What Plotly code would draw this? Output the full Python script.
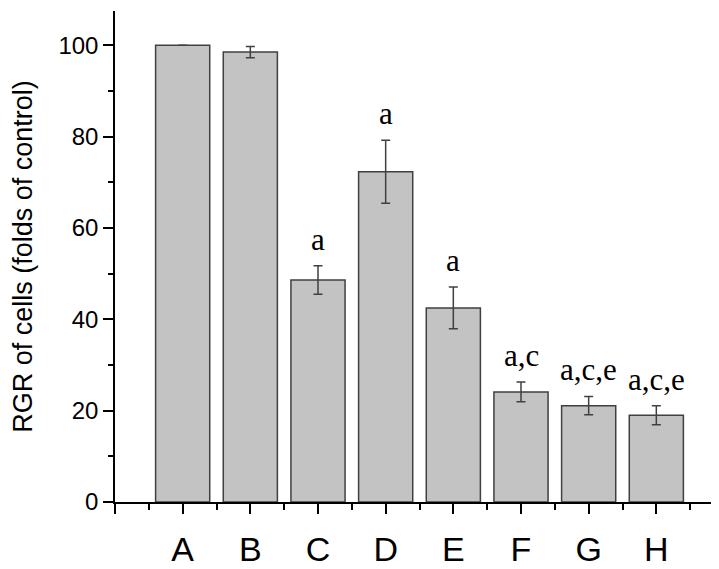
import plotly.graph_objects as go

categories = ["A", "B", "C", "D", "E", "F", "G", "H"]
positions = [1, 2, 3, 4, 5, 6, 7, 8]
values = [100, 98.5, 48.6, 72.3, 42.5, 24.1, 21.1, 19.0]
errors = [None, 1.25, 3.1, 6.9, 4.55, 2.15, 2.0, 2.1]
sig_labels = ["", "", "a", "a", "a", "a,c", "a,c,e", "a,c,e"]
y_ticks = [0, 20, 40, 60, 80, 100]

fig = go.Figure()
fig.add_trace(go.Bar(
    x=positions, y=values, width=0.8,
    marker=dict(color="#c3c3c3", line=dict(color="#404040", width=1.5)),
    error_y=dict(type="data", array=errors, visible=True,
                 color="#404040", thickness=1.5, width=4.5),
    showlegend=False,
))

for x, v, e, t in zip(positions, values, errors, sig_labels):
    if t:
        fig.add_annotation(x=x, y=v + (e or 0), text=t, showarrow=False,
                           yanchor="bottom", yshift=7,
                           font=dict(family="Liberation Serif", size=31, color="black"))

fig.update_layout(
    width=719, height=569,
    margin=dict(l=107, r=3, t=3, b=75),
    plot_bgcolor="white", paper_bgcolor="white",
    bargap=0.2,
)
fig.update_xaxes(
    range=[0, 9], automargin=False,
    tickvals=[0] + positions + [9],
    ticktext=[""] + categories + [""],
    ticks="outside", ticklen=10, tickwidth=1.5, tickcolor="black",
    minor=dict(tick0=0, dtick=0.5, ticks="outside", ticklen=6, tickwidth=1.5, tickcolor="black"),
    showline=True, linecolor="black", linewidth=1.5,
    showgrid=False, zeroline=False,
    tickfont=dict(family="Liberation Sans", size=34, color="black"),
    ticklabelstandoff=6,
)
fig.update_yaxes(
    range=[0, 107.5], automargin=False,
    tickvals=y_ticks,
    ticks="outside", ticklen=10, tickwidth=1.5, tickcolor="black",
    minor=dict(tick0=0, dtick=10, ticks="outside", ticklen=5, tickwidth=1.5, tickcolor="black"),
    showline=True, linecolor="black", linewidth=1.5,
    showgrid=False, zeroline=False,
    tickfont=dict(family="Liberation Sans", size=24, color="black"),
    title=dict(text="RGR of cells (folds of control)",
               font=dict(family="Liberation Sans", size=27, color="black"),
               standoff=20),
)

fig.write_html("out.html")
